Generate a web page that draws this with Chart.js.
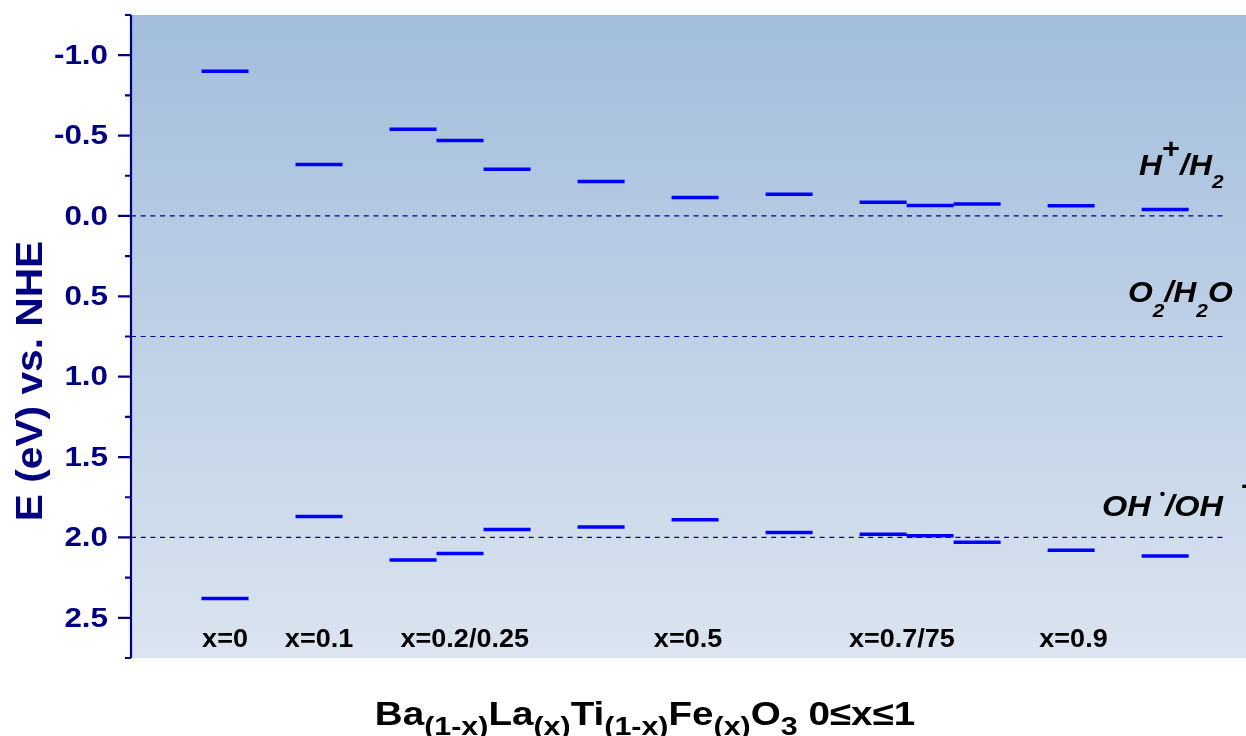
<!DOCTYPE html>
<html>
<head>
<meta charset="utf-8">
<script src="https://cdn.jsdelivr.net/npm/chart.js@4.4.0/dist/chart.umd.min.js"></script>
<style>
  html, body { margin: 0; padding: 0; background: #fff; }
  #wrap { width: 1246px; height: 736px; }
</style>
</head>
<body>
<div id="wrap"><canvas id="chart" width="1246" height="736"></canvas></div>
<script>
// x slot of each sample (one slot = one bar width), band edges in eV vs NHE
const slots = [0, 2, 4, 5, 6, 8, 10, 12, 14, 15, 16, 18, 20];
const cbLevels = [-0.90, -0.32, -0.54, -0.47, -0.29, -0.215, -0.115, -0.135, -0.085, -0.065, -0.075, -0.063, -0.04];
const vbLevels = [2.38, 1.87, 2.14, 2.10, 1.95, 1.935, 1.89, 1.97, 1.98, 1.99, 2.03, 2.08, 2.115];
const refLevels = [0, 0.75, 2.0];
const groupLabels = ['x=0', 'x=0.1', 'x=0.2/0.25', 'x=0.5', 'x=0.7/75', 'x=0.9'];
const groupPos = [0, 2, 5.1, 9.85, 14.4, 18.05];
const majorTicks = [-1.0, -0.5, 0.0, 0.5, 1.0, 1.5, 2.0, 2.5];
const minorTicks = [-1.25, -0.75, -0.25, 0.25, 0.75, 1.25, 1.75, 2.25, 2.75];

const FONT = '"Liberation Sans", Arial, sans-serif';
const NAVY = '#000080';

/* ---------- Helpers ---------- */
function segments(levels) {
    const pts = [];
    slots.forEach((s, i) => {
        pts.push({ x: s - 0.5, y: levels[i] }, { x: s + 0.5, y: levels[i] }, { x: s + 0.5, y: null });
    });
    return pts;
}

// draws a row of text pieces (sub/superscripts) stretched horizontally by sx
function drawRuns(ctx, parts, x, y, align, sx) {
    let total = 0;
    parts.forEach(p => { ctx.font = p.f; p.w = ctx.measureText(p.t).width * sx; total += p.w; });
    let cx = align === 'center' ? x - total / 2 : align === 'right' ? x - total : x;
    parts.forEach(p => {
        ctx.save();
        ctx.font = p.f;
        ctx.textAlign = 'left';
        ctx.translate(cx, y + (p.dy || 0));
        ctx.scale(sx, 1);
        ctx.fillText(p.t, 0, 0);
        ctx.restore();
        cx += p.w;
    });
}

const refData = refLevels.map(v => [{ x: -2, y: v }, { x: 21.25, y: v }]);

const backdrop = {
    id: 'backdrop',
    beforeDraw(chart) {
        const { ctx, chartArea: a } = chart;
        const g = ctx.createLinearGradient(0, a.top, 0, a.bottom);
        g.addColorStop(0, '#a2bddc');
        g.addColorStop(1, '#dbe4f0');
        ctx.save();
        ctx.fillStyle = g;
        ctx.fillRect(a.left, a.top, a.right - a.left, a.bottom - a.top);
        ctx.restore();
    }
};

const decorations = {
    id: 'decorations',
    afterDraw(chart) {
        const { ctx, chartArea: a } = chart;
        const ys = chart.scales.y, xs = chart.scales.x;
        ctx.save();
        // axis line + ticks
        ctx.strokeStyle = NAVY;
        ctx.lineWidth = 2.2;
        ctx.beginPath();
        ctx.moveTo(a.left, a.top);
        ctx.lineTo(a.left, a.bottom);
        majorTicks.forEach(v => {
            const p = ys.getPixelForValue(v);
            ctx.moveTo(a.left, p); ctx.lineTo(a.left - 13, p);
        });
        minorTicks.forEach(v => {
            const p = ys.getPixelForValue(v);
            ctx.moveTo(a.left, p); ctx.lineTo(a.left - 6, p);
        });
        ctx.stroke();

        // tick labels
        ctx.fillStyle = NAVY;
        ctx.textBaseline = 'middle';
        majorTicks.forEach(v => {
            drawRuns(ctx, [{ t: v.toFixed(1), f: 'bold 28px ' + FONT }], a.left - 23, ys.getPixelForValue(v) + 1, 'right', 1.12);
        });

        // y title
        ctx.textBaseline = 'alphabetic';
        ctx.save();
        ctx.translate(42, 381);
        ctx.rotate(-Math.PI / 2);
        drawRuns(ctx, [{ t: 'E (eV) vs. NHE', f: 'bold 37px ' + FONT }], 0, 0, 'center', 1.1);
        ctx.restore();

        // x title with subscripts
        ctx.fillStyle = '#000';
        const big = 'bold 33px ' + FONT, small = 'bold 26px ' + FONT;
        drawRuns(ctx, [
            { t: 'Ba', f: big }, { t: '(1-x)', f: small, dy: 10 },
            { t: 'La', f: big }, { t: '(x)', f: small, dy: 10 },
            { t: 'Ti', f: big }, { t: '(1-x)', f: small, dy: 10 },
            { t: 'Fe', f: big }, { t: '(x)', f: small, dy: 10 },
            { t: 'O', f: big }, { t: '3', f: small, dy: 10 },
            { t: ' 0\u2264x\u22641', f: big }
        ], 645, 725, 'center', 1.17);

        // group labels
        groupLabels.forEach((t, i) => {
            drawRuns(ctx, [{ t, f: 'bold 25px ' + FONT }], xs.getPixelForValue(groupPos[i]), 647, 'center', 1.08);
        });

        // redox level labels
        const it = 'italic bold 29px ' + FONT, sub = 'italic bold 19px ' + FONT;
        drawRuns(ctx, [
            { t: 'H', f: it }, { t: '+', f: 'bold 28px ' + FONT, dy: -17 },
            { t: '/H', f: it }, { t: '2', f: sub, dy: 13 }
        ], 1139, ys.getPixelForValue(refLevels[0]) - 41, 'left', 1.1);
        drawRuns(ctx, [
            { t: 'O', f: it }, { t: '2', f: sub, dy: 15 },
            { t: '/H', f: it }, { t: '2', f: sub, dy: 15 }, { t: 'O', f: it }
        ], 1128, ys.getPixelForValue(refLevels[1]) - 35, 'left', 1.1);
        drawRuns(ctx, [
            { t: 'OH ', f: it }, { t: '\u2022', f: 'bold 14px ' + FONT, dy: -17 },
            { t: '/OH  ', f: it }, { t: '-', f: 'bold 28px ' + FONT, dy: -22 }
        ], 1102, ys.getPixelForValue(refLevels[2]) - 21, 'left', 1.12);
        ctx.restore();
    }
};

const refSets = refData.map(d => ({
    data: d,
    borderColor: '#00008b',
    borderWidth: 1.2,
    borderDash: [5, 4.7],
    pointRadius: 0,
    fill: false
}));

new Chart(document.getElementById('chart').getContext('2d'), {
    type: 'line',
    data: {
        datasets: [
            ...refSets,
            { data: segments(cbLevels), borderColor: '#0000ff', borderWidth: 3.5, pointRadius: 0, fill: false, spanGaps: false, borderCapStyle: 'butt' },
            { data: segments(vbLevels), borderColor: '#0000ff', borderWidth: 3.5, pointRadius: 0, fill: false, spanGaps: false, borderCapStyle: 'butt' }
        ]
    },
    options: {
        responsive: false,
        animation: false,
        layout: { padding: { top: 15, bottom: 78, left: 0, right: 0 } },
        plugins: { legend: { display: false }, tooltip: { enabled: false } },
        scales: {
            x: { type: 'linear', min: -2, max: 21.72, display: false },
            y: {
                type: 'linear',
                reverse: true,
                min: -1.25,
                max: 2.75,
                grid: { display: false, drawTicks: false },
                border: { display: false },
                ticks: { display: false },
                afterFit: s => { s.width = 131; }
            }
        }
    },
    plugins: [backdrop, decorations]
});
</script>
</body>
</html>
